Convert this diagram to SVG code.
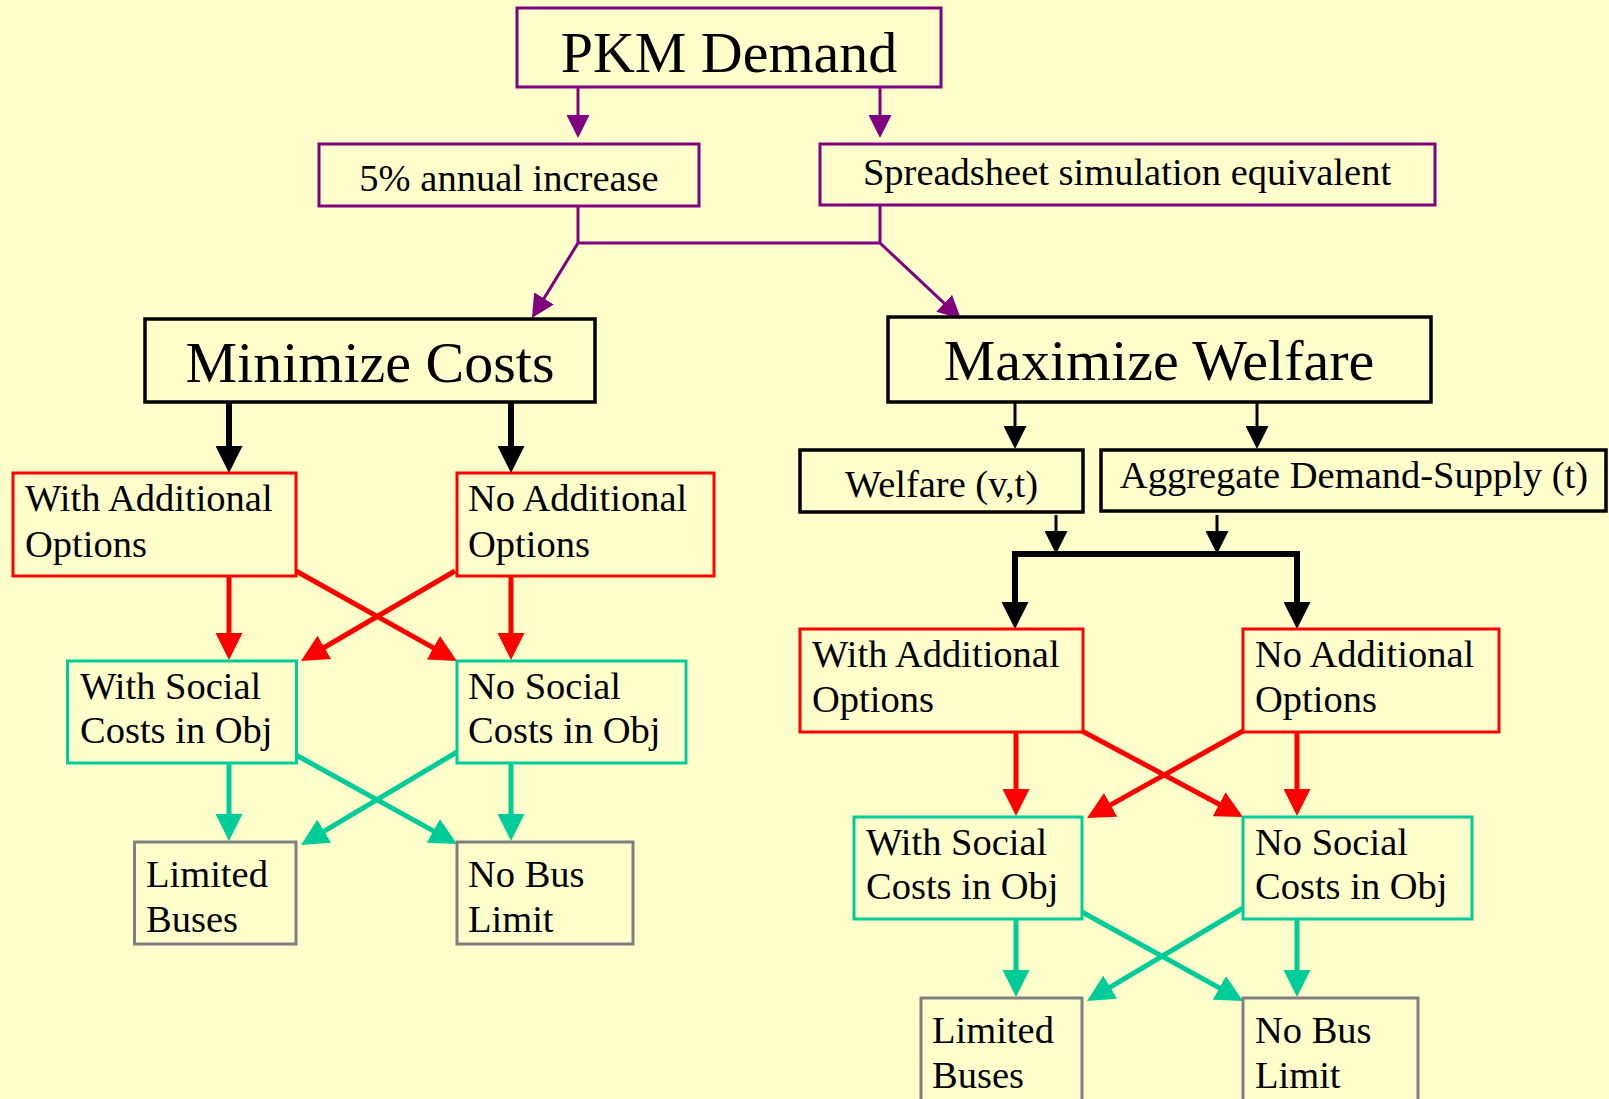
<svg xmlns="http://www.w3.org/2000/svg" width="1609" height="1099" viewBox="0 0 1609 1099">
<style>
.t{font-family:"Liberation Serif","Times New Roman",serif;fill:#000}
.big{font-size:58px}
.mid{font-size:38.5px}
.c{text-anchor:middle}
.bx{fill:none}
.pu{stroke:#800080;stroke-width:3}
.bk{stroke:#000;stroke-width:3.5}
.rd{stroke:#FF0000;stroke-width:3}
.tl{stroke:#00CC99;stroke-width:3}
.gy{stroke:#808080;stroke-width:3}
.cp{stroke:#800080;stroke-width:3;fill:none;marker-end:url(#mp)}
.cb{stroke:#000;stroke-width:3;fill:none;marker-end:url(#mbs)}
.cB{stroke:#000;stroke-width:6;fill:none;marker-end:url(#mbb)}
.cr{stroke:#FF0000;stroke-width:5;fill:none;marker-end:url(#mr)}
.ct{stroke:#00CC99;stroke-width:5;fill:none;marker-end:url(#mt)}
</style>
<defs>
<marker id="mp" markerUnits="userSpaceOnUse" markerWidth="23" markerHeight="23" refX="17" refY="11.5" orient="auto"><path d="M0,0 L23,11.5 L0,23 z" fill="#800080"/></marker>
<marker id="mbs" markerUnits="userSpaceOnUse" markerWidth="23" markerHeight="23" refX="17" refY="11.5" orient="auto"><path d="M0,0 L23,11.5 L0,23 z" fill="#000"/></marker>
<marker id="mbb" markerUnits="userSpaceOnUse" markerWidth="27" markerHeight="27" refX="19" refY="13.5" orient="auto"><path d="M0,0 L27,13.5 L0,27 z" fill="#000"/></marker>
<marker id="mr" markerUnits="userSpaceOnUse" markerWidth="27" markerHeight="27" refX="19" refY="13.5" orient="auto"><path d="M0,0 L27,13.5 L0,27 z" fill="#FF0000"/></marker>
<marker id="mt" markerUnits="userSpaceOnUse" markerWidth="27" markerHeight="27" refX="19" refY="13.5" orient="auto"><path d="M0,0 L27,13.5 L0,27 z" fill="#00CC99"/></marker>
</defs>
<rect x="0" y="0" width="1609" height="1099" fill="#FFFFCC"/>

<g id="connectors">
<path class="cp" d="M578,87 V132"/>
<path class="cp" d="M880,87 V132"/>
<path d="M578,206 V243 H880 V206" stroke="#800080" stroke-width="3" fill="none"/>
<path class="cp" d="M578,243 L535.1,312.9"/>
<path class="cp" d="M880,243 L956.6,314.9"/>

<path class="cB" d="M229,402 V465"/>
<path class="cB" d="M511,402 V465"/>

<path class="cb" d="M1015,402 V443"/>
<path class="cb" d="M1257,402 V443"/>
<path class="cb" d="M1056,515 V548"/>
<path class="cb" d="M1217,515 V548"/>
<path d="M1015,554 H1297" stroke="#000" stroke-width="6" fill="none"/>
<path class="cB" d="M1015,551 V621"/>
<path class="cB" d="M1297,551 V621"/>

<path class="cr" d="M229,577 V652"/>
<path class="cr" d="M511,577 V652"/>
<path class="cr" d="M296,571 L450,657.1"/>
<path class="cr" d="M455,571 L307.9,657"/>
<path class="cr" d="M1016,733 V808"/>
<path class="cr" d="M1297,733 V808"/>
<path class="cr" d="M1082,731 L1235.9,813.2"/>
<path class="cr" d="M1243,731 L1094,814.1"/>

<path class="ct" d="M229,764 V833"/>
<path class="ct" d="M511,764 V833"/>
<path class="ct" d="M296,755 L450,840.1"/>
<path class="ct" d="M457,752 L307.9,840.9"/>
<path class="ct" d="M1016,920 V989"/>
<path class="ct" d="M1297,920 V989"/>
<path class="ct" d="M1082,912 L1236,997.1"/>
<path class="ct" d="M1243,908 L1093.9,996.9"/>
</g>

<g id="pkm"><rect class="bx pu" x="517" y="8" width="424" height="79"/><text class="t big c" x="729" y="72">PKM Demand</text></g>
<g id="annual"><rect class="bx pu" x="319" y="144" width="380" height="62"/><text class="t mid c" x="509" y="191">5% annual increase</text></g>
<g id="spreadsheet"><rect class="bx pu" x="820" y="144" width="615" height="61"/><text class="t mid c" x="1127" y="185">Spreadsheet simulation equivalent</text></g>

<g id="mincost"><rect class="bx bk" x="145" y="319" width="450" height="83"/><text class="t big c" x="370" y="382">Minimize Costs</text></g>
<g id="maxwelfare"><rect class="bx bk" x="888" y="317" width="543" height="85"/><text class="t big c" x="1159" y="380">Maximize Welfare</text></g>
<g id="welfarevt"><rect class="bx bk" x="800" y="450" width="283" height="62"/><text class="t mid c" x="941.5" y="497">Welfare (v,t)</text></g>
<g id="aggregate"><rect class="bx bk" x="1101" y="450" width="505" height="61"/><text class="t mid c" x="1354" y="488">Aggregate Demand-Supply (t)</text></g>

<g id="l-withadd"><rect class="bx rd" x="13" y="473" width="283" height="103"/><text class="t mid" x="25" y="511">With Additional</text><text class="t mid" x="25" y="557">Options</text></g>
<g id="l-noadd"><rect class="bx rd" x="457" y="473" width="257" height="103"/><text class="t mid" x="468" y="511">No Additional</text><text class="t mid" x="468" y="557">Options</text></g>
<g id="l-withsoc"><rect class="bx tl" x="67.5" y="661" width="229" height="102"/><text class="t mid" x="80" y="699">With Social</text><text class="t mid" x="80" y="743">Costs in Obj</text></g>
<g id="l-nosoc"><rect class="bx tl" x="457" y="661" width="229" height="102"/><text class="t mid" x="468" y="699">No Social</text><text class="t mid" x="468" y="743">Costs in Obj</text></g>
<g id="l-limited"><rect class="bx gy" x="134.5" y="842" width="161.5" height="102"/><text class="t mid" x="146" y="887">Limited</text><text class="t mid" x="146" y="932">Buses</text></g>
<g id="l-nobus"><rect class="bx gy" x="457" y="842" width="176" height="102"/><text class="t mid" x="468" y="887">No Bus</text><text class="t mid" x="468" y="932">Limit</text></g>

<g id="r-withadd"><rect class="bx rd" x="800" y="629" width="283" height="103"/><text class="t mid" x="812" y="667">With Additional</text><text class="t mid" x="812" y="712">Options</text></g>
<g id="r-noadd"><rect class="bx rd" x="1243" y="629" width="256" height="103"/><text class="t mid" x="1255" y="667">No Additional</text><text class="t mid" x="1255" y="712">Options</text></g>
<g id="r-withsoc"><rect class="bx tl" x="854" y="817" width="228" height="102"/><text class="t mid" x="866" y="855">With Social</text><text class="t mid" x="866" y="899">Costs in Obj</text></g>
<g id="r-nosoc"><rect class="bx tl" x="1243" y="817" width="229" height="102"/><text class="t mid" x="1255" y="855">No Social</text><text class="t mid" x="1255" y="899">Costs in Obj</text></g>
<g id="r-limited"><rect class="bx gy" x="921" y="998" width="161" height="120"/><text class="t mid" x="932" y="1043">Limited</text><text class="t mid" x="932" y="1088">Buses</text></g>
<g id="r-nobus"><rect class="bx gy" x="1243" y="998" width="175" height="120"/><text class="t mid" x="1255" y="1043">No Bus</text><text class="t mid" x="1255" y="1088">Limit</text></g>
</svg>
